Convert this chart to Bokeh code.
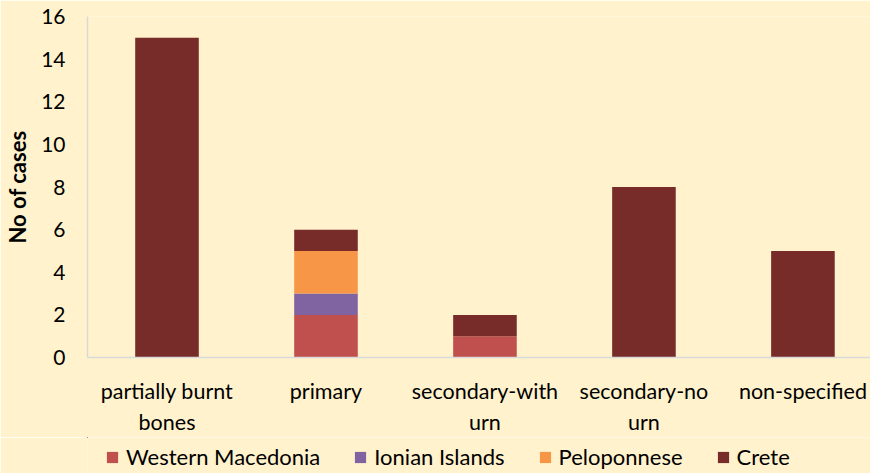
from bokeh.plotting import figure
from bokeh.models import Range1d, FixedTicker, Legend, LegendItem
from bokeh.layouts import column
from bokeh.embed import file_html
from bokeh.resources import INLINE

categories = ["partially burnt\nbones", "primary", "secondary-with\nurn", "secondary-no\nurn", "non-specified"]
regions = ["Western Macedonia", "Ionian Islands", "Peloponnese", "Crete"]
western_macedonia = [0, 2, 1, 0, 0]
ionian_islands = [0, 1, 0, 0, 0]
peloponnese = [0, 2, 0, 0, 0]
crete = [15, 1, 1, 8, 5]
colors = ["#C0504D", "#8064A2", "#F79646", "#772C2A"]
y_ticks = [0, 2, 4, 6, 8, 10, 12, 14, 16]

BG = "#FFF2CC"
FONT = "Lato"

x = list(range(len(categories)))
data = {"x": x, "Western Macedonia": western_macedonia, "Ionian Islands": ionian_islands,
        "Peloponnese": peloponnese, "Crete": crete}

# main chart
p = figure(width=870, height=437, output_backend="svg", toolbar_location=None,
           x_range=Range1d(-0.5, 4.425), y_range=Range1d(0, 16))
p.min_border_left = 87
p.min_border_top = 16
p.min_border_right = 0
p.min_border_bottom = 80
p.background_fill_color = BG
p.border_fill_color = BG
p.outline_line_color = None
p.grid.visible = False

p.vbar_stack(regions, x="x", width=0.4, source=data, color=colors,
             line_color=colors, line_width=0)

for ax in (p.xaxis[0], p.yaxis[0]):
    ax.axis_line_color = "#D9D9D9"
    ax.axis_line_width = 1.5
    ax.major_tick_line_color = None
    ax.minor_tick_line_color = None
    ax.major_tick_out = 0
    ax.major_tick_in = 0
    ax.minor_tick_out = 0
    ax.major_label_text_font = FONT
    ax.major_label_text_color = "#000000"

p.xaxis.ticker = FixedTicker(ticks=x)
p.xaxis.major_label_overrides = {i: c for i, c in enumerate(categories)}
p.xaxis.major_label_standoff = 20
p.xaxis.major_label_text_font_size = "21.5px"

p.yaxis.ticker = FixedTicker(ticks=y_ticks)
p.yaxis.major_label_standoff = 22
p.yaxis.major_label_text_font_size = "21px"
p.yaxis.axis_label = "No of cases"
p.yaxis.axis_label_text_font = FONT
p.yaxis.axis_label_text_font_size = "22px"
p.yaxis.axis_label_text_font_style = "bold"
p.yaxis.axis_label_text_color = "#000000"
p.yaxis.axis_label_standoff = 7

# legend strip (same series, drawn far outside its visible ranges so only the legend shows)
leg = figure(width=870, height=36, output_backend="svg", toolbar_location=None,
             x_range=Range1d(100, 101), y_range=Range1d(-200, -100),
             x_axis_location=None, y_axis_location=None)
leg.min_border_left = 0
leg.min_border_right = 0
leg.min_border_top = 0
leg.min_border_bottom = 0
leg.background_fill_color = BG
leg.border_fill_color = BG
leg.outline_line_color = None
leg.grid.visible = False
leg_renderers = leg.vbar_stack(regions, x="x", width=0.4, source=data, color=colors,
                               line_color=colors, line_width=0)

legend = Legend(items=[LegendItem(label=r, renderers=[rend]) for r, rend in zip(regions, leg_renderers)],
                orientation="horizontal", location=(18, 3),
                label_text_font=FONT, label_text_font_size="22px", label_text_color="#000000",
                glyph_width=14, glyph_height=14, label_standoff=7, spacing=33,
                background_fill_alpha=0, border_line_color=None, margin=0, padding=0)
leg.add_layout(legend, "center")

layout = column(p, leg, spacing=0)
open("out.html", "w").write(file_html(layout, INLINE))
